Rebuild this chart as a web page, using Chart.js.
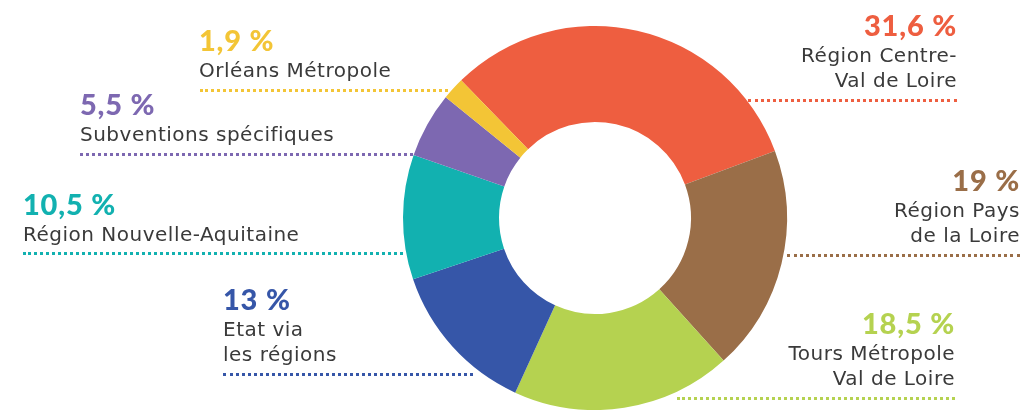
<!DOCTYPE html>
<html>
<head>
<meta charset="utf-8">
<script src="https://cdn.jsdelivr.net/npm/chart.js@4/dist/chart.umd.min.js"></script>
<style>
  body { margin: 0; background: #fff; }
  #wrap { position: relative; width: 1027px; height: 410px; overflow: hidden; }
  #myChart { position: absolute; left: 0; top: 0; }
  .lbl { position: absolute; font-family: "DejaVu Sans", sans-serif; font-weight: normal; font-size: 20px; letter-spacing: 0.5px; line-height: 25px; color: #3a3a3a; white-space: nowrap; }
  .lbl b { display: block; font-family: Lato, sans-serif; font-weight: 900; font-size: 29px; line-height: 30px; letter-spacing: 0.8px; margin-bottom: 3px; }
  .right { text-align: right; }
  .dots { position: absolute; height: 0; border-top: 3px dotted; }
</style>
</head>
<body>
<div id="wrap">
  <canvas id="myChart" width="1027" height="410"></canvas>
</div>
<script>
/******** data */
const categories = [
  "Région Centre-Val de Loire",
  "Région Pays de la Loire",
  "Tours Métropole Val de Loire",
  "Etat via les régions",
  "Région Nouvelle-Aquitaine",
  "Subventions spécifiques",
  "Orléans Métropole"
];
const shares = [31.6, 19, 18.5, 13, 10.5, 5.5, 1.9];
const shareLabels = ["31,6 %", "19 %", "18,5 %", "13 %", "10,5 %", "5,5 %", "1,9 %"];
const colors = ["#ee5e40", "#9a6e48", "#b5d250", "#3656a8", "#12b1b0", "#7d68b1", "#f3c536"];

/******** label boxes (html text) */
const wrap = document.getElementById("wrap");
const boxes = [
  { lines: ["Région Centre-", "Val de Loire"], right: 70, top: 10, line: [748, 957, 99] },
  { lines: ["Région Pays", "de la Loire"], right: 7, top: 165, line: [787, 1020, 254] },
  { lines: ["Tours Métropole", "Val de Loire"], right: 72, top: 308, line: [677, 955, 397] },
  { lines: ["Etat via", "les régions"], left: 223, top: 284, line: [223, 473, 373] },
  { lines: ["Région Nouvelle-Aquitaine"], left: 23, top: 189, line: [23, 403, 252] },
  { lines: ["Subventions spécifiques"], left: 80, top: 89, line: [80, 443, 153] },
  { lines: ["Orléans Métropole"], left: 199, top: 25, line: [200, 448, 89] }
];

boxes.forEach((b, i) => {
  let dots = document.createElement("div");
  dots.className = "dots";
  dots.style.left = b.line[0] + "px";
  dots.style.width = (b.line[1] - b.line[0]) + "px";
  dots.style.top = b.line[2] + "px";
  dots.style.borderColor = colors[i];
  wrap.appendChild(dots);

  let el = document.createElement("div");
  el.className = "lbl";
  if (b.right !== undefined) {
    el.classList.add("right");
    el.style.right = b.right + "px";
  } else {
    el.style.left = b.left + "px";
  }
  el.style.top = b.top + "px";
  let head = document.createElement("b");
  head.style.color = colors[i];
  head.textContent = shareLabels[i];
  el.appendChild(head);
  b.lines.forEach((t) => {
    let d = document.createElement("div");
    d.textContent = t;
    el.appendChild(d);
  });
  wrap.appendChild(el);
});

/******** doughnut */
const ctx = document.getElementById("myChart");
new Chart(ctx, {
  type: "doughnut",
  data: {
    labels: categories,
    datasets: [
      {
        data: shares,
        backgroundColor: colors,
        borderWidth: 0,
      },
    ],
  },
  options: {
    responsive: false,
    animation: false,
    rotation: -44.2,
    cutout: "50%",
    layout: {
      padding: { left: 403, right: 240, top: 26, bottom: 0 },
    },
    plugins: {
      legend: { display: false },
      tooltip: { enabled: false },
    },
  },
});
</script>
</body>
</html>
